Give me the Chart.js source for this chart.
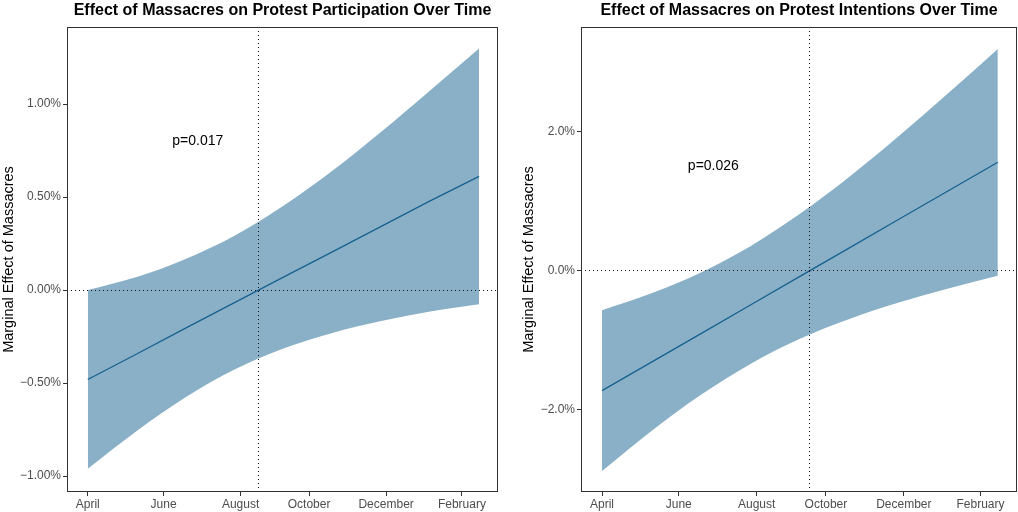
<!DOCTYPE html>
<html>
<head>
<meta charset="utf-8">
<script src="https://cdn.jsdelivr.net/npm/chart.js@4"></script>
<style>
body{margin:0;background:#fff;}
#wrap{position:relative;width:1018px;height:512px;}
canvas{position:absolute;top:0;}
</style>
</head>
<body>
<div id="wrap">
<canvas id="partChart" width="509" height="512" style="left:0"></canvas>
<canvas id="intChart" width="509" height="512" style="left:509px"></canvas>
</div>
<script>
// days since April 1st
const days = [0, 40, 80, 120, 160, 200, 240, 280, 320];
const monthTicks = [0, 62, 125, 181, 244, 306];
const monthLabels = ['April', 'June', 'August', 'October', 'December', 'February'];

// protest participation (marginal effect, %)
const partEffect = [-0.481, -0.344, -0.205, -0.068, 0.069, 0.205, 0.342, 0.479, 0.611];
const partUpper  = [0.000, 0.070, 0.167, 0.292, 0.453, 0.641, 0.851, 1.073, 1.298];
const partLower  = [-0.961, -0.758, -0.577, -0.428, -0.315, -0.231, -0.167, -0.115, -0.076];
const partTicks  = [-1, -0.5, 0, 0.5, 1];

// protest intentions (marginal effect, %)
const intEffect = [-1.731, -1.321, -0.911, -0.500, -0.087, 0.323, 0.734, 1.144, 1.554];
const intUpper  = [-0.575, -0.331, -0.031, 0.347, 0.812, 1.347, 1.933, 2.549, 3.185];
const intLower  = [-2.887, -2.311, -1.791, -1.347, -0.986, -0.701, -0.465, -0.261, -0.077];
const intTicks  = [-2, 0, 2];

const FONT = '"Liberation Sans", Arial, Helvetica, sans-serif';
const bandColor = '#89b0c7';
const lineColor = '#18618f';

const pct = (v, dec) => (v < 0 ? '\u2212' : '') + Math.abs(v).toFixed(dec) + '%';

// reference lines, frame, title and p-value label
const decor = {
  id: 'decor',
  afterDatasetsDraw(chart, args, o){
    const {ctx, chartArea: a, scales: {x, y}} = chart;
    ctx.save();
    ctx.strokeStyle = '#111'; ctx.lineWidth = 1; ctx.setLineDash([1, 3]);
    const y0 = Math.round(y.getPixelForValue(0)) + 0.5;
    ctx.beginPath(); ctx.moveTo(a.left, y0); ctx.lineTo(a.right, y0); ctx.stroke();
    const xv = Math.round(x.getPixelForValue(o.eventDay)) + 0.5;
    ctx.beginPath(); ctx.moveTo(xv, a.top); ctx.lineTo(xv, a.bottom); ctx.stroke();
    ctx.setLineDash([]);
    ctx.strokeStyle = '#333'; ctx.lineWidth = 1;
    ctx.strokeRect(a.left + 0.5, a.top + 0.5, a.width - 1, a.height - 1);
    ctx.fillStyle = '#000'; ctx.textAlign = 'center'; ctx.textBaseline = 'middle';
    ctx.font = '14px ' + FONT;
    ctx.fillText(o.pText, x.getPixelForValue(o.pAt[0]), y.getPixelForValue(o.pAt[1]));
    ctx.font = 'bold 16px ' + FONT;
    ctx.fillText(o.title, (a.left + a.right) / 2, 11);
    ctx.restore();
  }
};

function makeChart(id, c){
  const pts = arr => days.map((d, i) => ({x: d, y: arr[i]}));
  return new Chart(document.getElementById(id), {
    type: 'line',
    data: {datasets: [
      {data: pts(c.upper), order: 1, fill: '+1', backgroundColor: bandColor, borderColor: 'rgba(0,0,0,0)', borderWidth: 0, pointRadius: 0, cubicInterpolationMode: 'monotone'},
      {data: pts(c.lower), order: 2, fill: false, borderColor: 'rgba(0,0,0,0)', borderWidth: 0, pointRadius: 0, cubicInterpolationMode: 'monotone'},
      {data: pts(c.effect), order: 0, fill: false, borderColor: lineColor, borderWidth: 1.3, pointRadius: 0}
    ]},
    options: {
      responsive: false, animation: false, devicePixelRatio: 1,
      layout: {padding: {top: 27, right: c.padRight, bottom: 0, left: 0}},
      plugins: {legend: {display: false}, tooltip: {enabled: false},
        decor: {eventDay: c.eventDay, pText: c.pText, pAt: c.pAt, title: c.title}},
      scales: {
        x: {type: 'linear', min: -17, max: 335.5,
          afterBuildTicks: s => { s.ticks = monthTicks.map(v => ({value: v})); },
          afterFit: s => { s.height = 20; },
          ticks: {callback: (v, i) => monthLabels[i], font: {family: FONT, size: 12}, color: '#4d4d4d', padding: 1, maxRotation: 0, autoSkip: false},
          grid: {display: true, drawOnChartArea: false, drawTicks: true, tickLength: 4, color: '#333'},
          border: {display: false}},
        y: {type: 'linear', min: c.yMin, max: c.yMax,
          afterBuildTicks: s => { s.ticks = c.ticks.map(v => ({value: v})); },
          afterFit: s => { s.width = c.yWidth; },
          ticks: {callback: v => pct(v, c.dec), font: {family: FONT, size: 12}, color: '#4d4d4d', padding: 2},
          grid: {display: true, drawOnChartArea: false, drawTicks: true, tickLength: 4, color: '#333'},
          border: {display: false},
          title: {display: true, text: 'Marginal Effect of Massacres', color: '#000', font: {family: FONT, size: 14.5}, padding: {top: c.titlePad, bottom: 0}}}
      }
    },
    plugins: [decor]
  });
}

makeChart('partChart', {
  upper: partUpper, lower: partLower, effect: partEffect, ticks: partTicks, dec: 2,
  yMin: -1.086, yMax: 1.414, yWidth: 67, padRight: 11, titlePad: 0.3,
  eventDay: 139, pText: 'p=0.017', pAt: [90, 0.8],
  title: 'Effect of Massacres on Protest Participation Over Time'
});
makeChart('intChart', {
  upper: intUpper, lower: intLower, effect: intEffect, ticks: intTicks, dec: 1,
  yMin: -3.19, yMax: 3.50, yWidth: 72, padRight: 1, titlePad: 11,
  eventDay: 167, pText: 'p=0.026', pAt: [90, 1.5],
  title: 'Effect of Massacres on Protest Intentions Over Time'
});
</script>
</body>
</html>
